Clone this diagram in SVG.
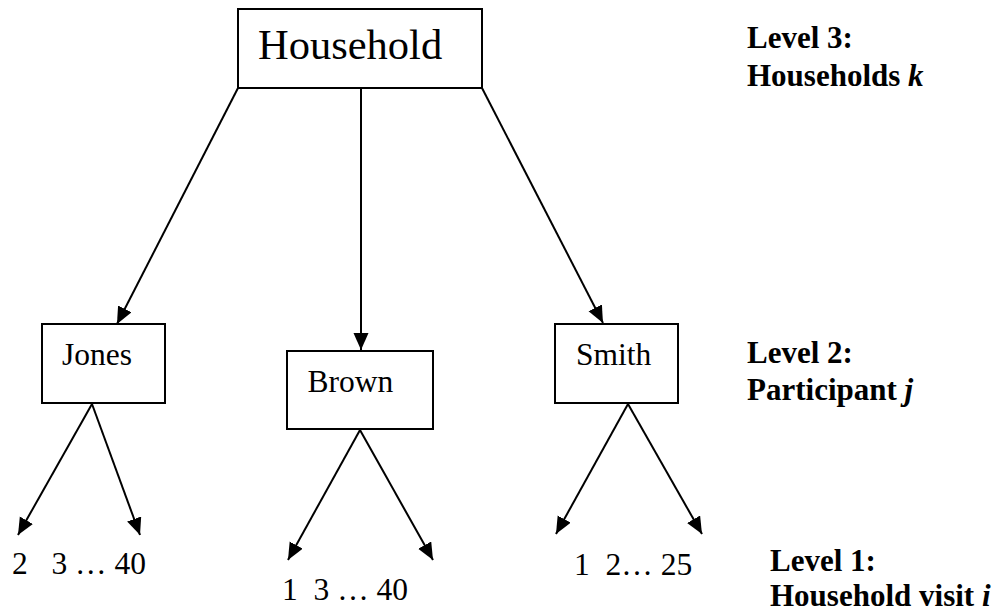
<svg xmlns="http://www.w3.org/2000/svg" width="1003" height="615" viewBox="0 0 1003 615">
<style>
.box{fill:#fff;stroke:#000;stroke-width:2}
.lbl{font-family:"Liberation Serif","Times New Roman",serif;font-size:31.5px;fill:#000}
.big{font-family:"Liberation Serif","Times New Roman",serif;font-size:42.5px;fill:#000}
.lvl{font-family:"Liberation Serif","Times New Roman",serif;font-size:31px;font-weight:bold;fill:#000}
.conn line{stroke:#000;stroke-width:2;marker-end:url(#ah)}
</style>
<defs>
<marker id="ah" markerUnits="userSpaceOnUse" markerWidth="18" markerHeight="16" refX="17" refY="7.5" orient="auto" viewBox="0 0 18 16">
<path d="M0,0 L17,7.5 L0,15 z" fill="#000"/>
</marker>
</defs>
<rect width="1003" height="615" fill="#fff"/>
<g id="connectors" class="conn">
<line x1="238" y1="88" x2="117" y2="324"/>
<line x1="361" y1="88" x2="361" y2="350"/>
<line x1="482" y1="88" x2="603" y2="323"/>
<line x1="92" y1="404" x2="18" y2="535"/>
<line x1="92" y1="404" x2="140" y2="535"/>
<line x1="360" y1="430" x2="288" y2="560"/>
<line x1="360" y1="430" x2="433" y2="560"/>
<line x1="628" y1="404" x2="556" y2="534"/>
<line x1="628" y1="404" x2="702" y2="534"/>
</g>
<g id="household">
<rect class="box" x="238" y="9" width="244" height="79"/>
<text class="big" x="258" y="59">Household</text>
</g>
<g id="jones">
<rect class="box" x="42" y="324" width="123" height="79"/>
<text class="lbl" x="62" y="365">Jones</text>
</g>
<g id="brown">
<rect class="box" x="287" y="351" width="146" height="78"/>
<text class="lbl" x="307.5" y="392">Brown</text>
</g>
<g id="smith">
<rect class="box" x="555" y="324" width="123" height="79"/>
<text class="lbl" x="576" y="365">Smith</text>
</g>
<g id="visits">
<text class="lbl" x="12" y="574" xml:space="preserve">2   3 … 40</text>
<text class="lbl" x="282" y="600" xml:space="preserve">1  3 … 40</text>
<text class="lbl" x="574" y="575" xml:space="preserve">1  2… 25</text>
</g>
<g id="levels">
<text class="lvl" x="747" y="48">Level 3:</text>
<text class="lvl" x="747" y="86">Households <tspan font-style="italic">k</tspan></text>
<text class="lvl" x="747" y="363">Level 2:</text>
<text class="lvl" x="747" y="400">Participant <tspan font-style="italic">j</tspan></text>
<text class="lvl" x="770" y="571">Level 1:</text>
<text class="lvl" x="770" y="606">Household visit <tspan font-style="italic">i</tspan></text>
</g>
</svg>
